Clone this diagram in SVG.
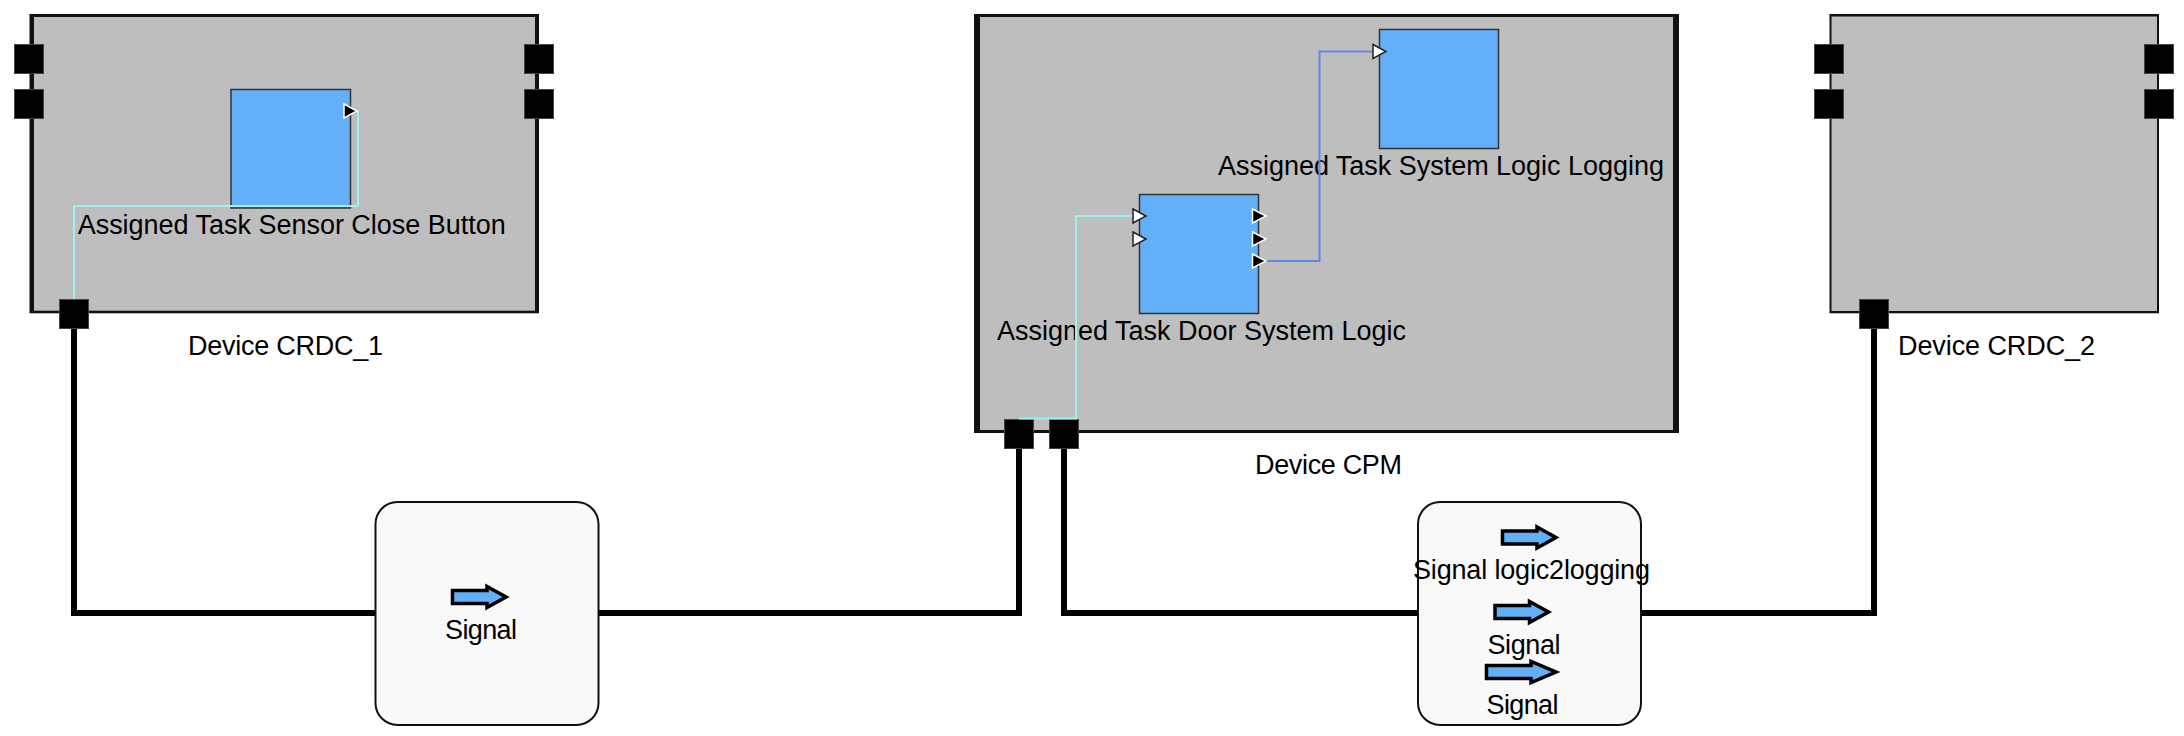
<svg xmlns="http://www.w3.org/2000/svg" width="2184" height="736" viewBox="0 0 2184 736">
<style>
.edge{fill:#111}
.inner{fill:#bebebe}
.port{fill:#000;stroke:#444;stroke-width:1}
.task{fill:#64b0f8;stroke:#333;stroke-width:1.5}
.in{fill:#fff;stroke:#222;stroke-width:1.5}
.out{fill:#000;stroke:#fff;stroke-width:1.5}
.bus{fill:none;stroke:#000;stroke-width:6}
.cy{fill:none;stroke:#9df2f0;stroke-width:2}
.bl{fill:none;stroke:#6089ea;stroke-width:2}
.sigbox{fill:#f9f9f9;stroke:#111;stroke-width:2}
.arrow{fill:#64b0f8;stroke:#000;stroke-width:3.5;stroke-linejoin:miter}
text{font-family:"Liberation Sans",Arial,sans-serif;font-size:27px;fill:#000;text-anchor:middle}
</style>
<g id="connectors">
<path class="bus" d="M74 328V613H375"/>
<path class="bus" d="M599 613H1019V448"/>
<path class="bus" d="M1064 448V613H1417"/>
<path class="bus" d="M1641 613H1874V328"/>
</g>
<g id="device-crdc1">
<rect class="edge" x="29.500" y="14" width="509.500" height="299.300"/>
<rect class="inner" x="34" y="17" width="501" height="293.700"/>
<rect class="port" x="14.500" y="44.500" width="29" height="29"/>
<rect class="port" x="14.500" y="89.500" width="29" height="29"/>
<rect class="port" x="524.500" y="44.500" width="29" height="29"/>
<rect class="port" x="524.500" y="89.500" width="29" height="29"/>
<rect class="port" x="59.500" y="299.500" width="29" height="29"/>
<text x="285.500" y="355" textLength="195">Device CRDC_1</text>
</g>
<g id="device-cpm">
<rect class="edge" x="974" y="14" width="705" height="419"/>
<rect class="inner" x="980" y="17" width="693" height="413"/>
<rect class="port" x="1004.500" y="419.500" width="29" height="29"/>
<rect class="port" x="1049.500" y="419.500" width="29" height="29"/>
<text x="1328.500" y="474" textLength="147">Device CPM</text>
</g>
<g id="device-crdc2">
<rect class="edge" x="1829.500" y="14" width="329.500" height="299.300"/>
<rect class="inner" x="1831.500" y="16.500" width="325.500" height="294.500"/>
<rect class="port" x="1814.500" y="44.500" width="29" height="29"/>
<rect class="port" x="1814.500" y="89.500" width="29" height="29"/>
<rect class="port" x="2144.500" y="44.500" width="29" height="29"/>
<rect class="port" x="2144.500" y="89.500" width="29" height="29"/>
<rect class="port" x="1859.500" y="299.500" width="29" height="29"/>
<text x="1996.500" y="355" textLength="197">Device CRDC_2</text>
</g>
<g id="task-sensor">
<rect class="task" x="231" y="89.500" width="119.500" height="118.500"/>
<text x="291.700" y="234" textLength="428">Assigned Task Sensor Close Button</text>
</g>
<g id="task-door">
<rect class="task" x="1139.500" y="194.500" width="119" height="119"/>
<text x="1201.500" y="339.500" textLength="409">Assigned Task Door System Logic</text>
</g>
<g id="task-logging">
<rect class="task" x="1379.500" y="29.500" width="119" height="119"/>
<text x="1441" y="174.500" textLength="446">Assigned Task System Logic Logging</text>
</g>
<g id="wires">
<path class="cy" d="M74 299V206H358V111"/>
<path class="cy" d="M1019 418.500H1076V216H1133"/>
<path class="bl" d="M1266 261H1319.500V51.500H1373"/>
</g>
<g id="task-ports">
<path class="out" d="M344 104L357 111L344 118Z"/>
<path class="in" d="M1133 209L1146 216L1133 223Z"/>
<path class="in" d="M1133 232L1146 239L1133 246Z"/>
<path class="out" d="M1252.500 209L1266 216L1252.500 223Z"/>
<path class="out" d="M1252.500 232L1266 239L1252.500 246Z"/>
<path class="out" d="M1252.500 254L1266 261L1252.500 268Z"/>
<path class="in" d="M1373 44.500L1386 51.500L1373 58.500Z"/>
</g>
<g id="signal-box-1">
<rect class="sigbox" x="375.500" y="502" width="223" height="223" rx="22"/>
<path class="arrow" d="M452.500 590.500H487V586.500L506 597L487 607.500V603.500H452.500Z"/>
<text x="481" y="639" textLength="72">Signal</text>
</g>
<g id="signal-box-2">
<rect class="sigbox" x="1418" y="502" width="223" height="223" rx="22"/>
<path class="arrow" d="M1502.500 531H1537V527L1556 537.500L1537 548V544H1502.500Z"/>
<text x="1531.500" y="579" textLength="237">Signal logic2logging</text>
<path class="arrow" d="M1495 605.500H1529.500V601.500L1548.500 612L1529.500 622.500V618.500H1495Z"/>
<text x="1524" y="654" textLength="73">Signal</text>
<path class="arrow" d="M1486.500 665.500H1531V661.500L1556 672L1531 682.500V678.500H1486.500Z"/>
<text x="1522.500" y="714" textLength="72">Signal</text>
</g>
</svg>
